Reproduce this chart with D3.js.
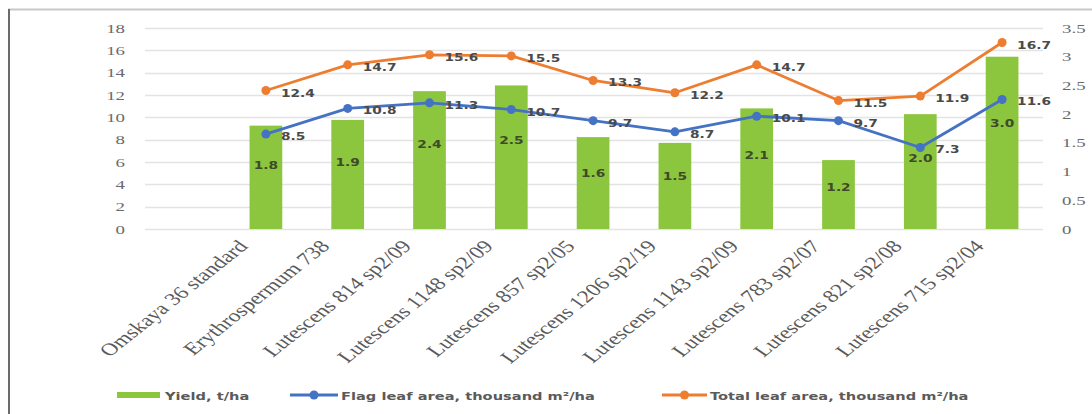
<!DOCTYPE html>
<html>
<head>
<meta charset="utf-8">
<script src="https://cdn.jsdelivr.net/npm/d3@7"></script>
<style>
  html, body { margin: 0; padding: 0; background: #fff; }
  svg { display: block; }
</style>
</head>
<body>
<svg id="chart" width="1092" height="414"></svg>
<script>
// Varieties on the x axis
const categories = [
  "Omskaya 36 standard",
  "Erythrospermum 738",
  "Lutescens  814 sp2/09",
  "Lutescens  1148 sp2/09",
  "Lutescens  857 sp2/05",
  "Lutescens  1206 sp2/19",
  "Lutescens  1143 sp2/09",
  "Lutescens  783 sp2/07",
  "Lutescens  821 sp2/08",
  "Lutescens 715 sp2/04"
];
// Yield, t/ha (right axis)
const yieldValues = [1.8, 1.9, 2.4, 2.5, 1.6, 1.5, 2.1, 1.2, 2.0, 3.0];
// Flag leaf area, thousand m²/ha (left axis)
const flagLeafArea = [8.5, 10.8, 11.3, 10.7, 9.7, 8.7, 10.1, 9.7, 7.3, 11.6];
// Total leaf area, thousand m²/ha (left axis)
const totalLeafArea = [12.4, 14.7, 15.6, 15.5, 13.3, 12.2, 14.7, 11.5, 11.9, 16.7];

const leftTicks = [0, 2, 4, 6, 8, 10, 12, 14, 16, 18];
const rightTicks = [0, 0.5, 1, 1.5, 2, 2.5, 3, 3.5];
const seriesNames = ["Yield, t/ha", "Flag leaf area, thousand m²/ha", "Total leaf area, thousand m²/ha"];

const GREEN = "#8cc63f", BLUE = "#4472c4", ORANGE = "#ed7d31";
const svg = d3.select("#chart");

// frame
svg.append("line").attr("x1", 8).attr("x2", 1092).attr("y1", 9.5).attr("y2", 9.5)
  .attr("stroke", "#c8c8c8").attr("stroke-width", 2);
svg.append("line").attr("x1", 9).attr("x2", 9).attr("y1", 9).attr("y2", 414)
  .attr("stroke", "#6b6b6b").attr("stroke-width", 2);

const gridLeft = 145, plotRight = 1043, yTop = 28, yBottom = 229;

const x = d3.scaleBand().domain(categories).range([225, plotRight])
  .paddingInner(0.6).paddingOuter(0.3);
const cx = c => x(c) + x.bandwidth() / 2;
const yL = d3.scaleLinear().domain([0, 18]).range([yBottom, yTop]);
const yR = d3.scaleLinear().domain([0, 3.5]).range([yBottom, yTop]);

// horizontally widened text, placed at (px, py)
function wideText(sel, sx) {
  return sel.attr("transform", d => `translate(${d.px},${d.py}) scale(${sx},1)`);
}

// gridlines
svg.append("g").selectAll("line").data(leftTicks).join("line")
  .attr("x1", gridLeft).attr("x2", plotRight)
  .attr("y1", d => Math.round(yL(d)) + 0.5).attr("y2", d => Math.round(yL(d)) + 0.5)
  .attr("stroke", "#e3e3e3").attr("stroke-width", 1.5);

// left axis labels
svg.append("g").selectAll("text").data(leftTicks.map(v => ({ v, px: 125, py: yL(v) + 4.5 })))
  .join("text").call(wideText, 1.45)
  .attr("text-anchor", "end").attr("font-family", "Liberation Serif").attr("font-size", 13)
  .attr("fill", "#6a6a6a").text(d => d.v);

// right axis labels
svg.append("g").selectAll("text").data(rightTicks.map(v => ({ v, px: 1062, py: yR(v) + 4.5 })))
  .join("text").call(wideText, 1.45)
  .attr("text-anchor", "start").attr("font-family", "Liberation Serif").attr("font-size", 13)
  .attr("fill", "#6a6a6a").text(d => d.v);

// yield bars
svg.append("g").selectAll("rect").data(categories).join("rect")
  .attr("x", c => x(c)).attr("width", x.bandwidth())
  .attr("y", (c, i) => yR(yieldValues[i]))
  .attr("height", (c, i) => yBottom - yR(yieldValues[i]))
  .attr("fill", GREEN);

// bar value labels
svg.append("g").selectAll("text")
  .data(categories.map((c, i) => ({ v: yieldValues[i], px: cx(c), py: yR(yieldValues[i] * 0.62) + 4.5 })))
  .join("text").call(wideText, 1.25)
  .attr("text-anchor", "middle").attr("font-family", "DejaVu Sans").attr("font-weight", "bold")
  .attr("font-size", 11).attr("fill", "#3f4a2a").text(d => d.v.toFixed(1));

// leaf-area lines
function drawSeries(values, color) {
  const line = d3.line().x((d, i) => cx(categories[i])).y(d => yL(d));
  svg.append("path").datum(values).attr("d", line)
    .attr("fill", "none").attr("stroke", color).attr("stroke-width", 2.8)
    .attr("stroke-linejoin", "round");
  svg.append("g").selectAll("circle").data(values).join("circle")
    .attr("cx", (d, i) => cx(categories[i])).attr("cy", d => yL(d)).attr("r", 4.5)
    .attr("fill", color);
  svg.append("g").selectAll("text")
    .data(values.map((v, i) => ({ v, px: cx(categories[i]) + 15, py: yL(v) + 6 })))
    .join("text").call(wideText, 1.25)
    .attr("font-family", "DejaVu Sans").attr("font-weight", "bold").attr("font-size", 11)
    .attr("fill", "#4a4a4a").text(d => d.v.toFixed(1));
}
drawSeries(totalLeafArea, ORANGE);
drawSeries(flagLeafArea, BLUE);

// category labels, slanted
svg.append("g").selectAll("text").data(categories).join("text")
  .attr("transform", c => `translate(${cx(c) - 17},${247}) scale(1.35,1) rotate(-47)`)
  .attr("text-anchor", "end").attr("font-family", "Liberation Serif").attr("font-size", 17.5)
  .attr("fill", "#5a5a5a").text(c => c);

// legend
const legendY = 395;
const lg = svg.append("g");
lg.append("rect").attr("x", 117).attr("y", legendY - 3).attr("width", 43).attr("height", 6).attr("fill", GREEN);
const legendLines = [
  { color: BLUE, x0: 290, x1: 338 },
  { color: ORANGE, x0: 662, x1: 707 }
];
legendLines.forEach(l => {
  lg.append("line").attr("x1", l.x0).attr("x2", l.x1).attr("y1", legendY).attr("y2", legendY)
    .attr("stroke", l.color).attr("stroke-width", 2.8);
  lg.append("circle").attr("cx", (l.x0 + l.x1) / 2).attr("cy", legendY).attr("r", 4.5).attr("fill", l.color);
});
lg.selectAll("text")
  .data(seriesNames.map((s, i) => ({ s, px: [165, 341, 710][i], py: legendY + 4.5 })))
  .join("text").call(wideText, 1.33)
  .attr("font-family", "DejaVu Sans").attr("font-weight", "bold").attr("font-size", 11)
  .attr("fill", "#5a5a5a").text(d => d.s);
</script>
</body>
</html>
